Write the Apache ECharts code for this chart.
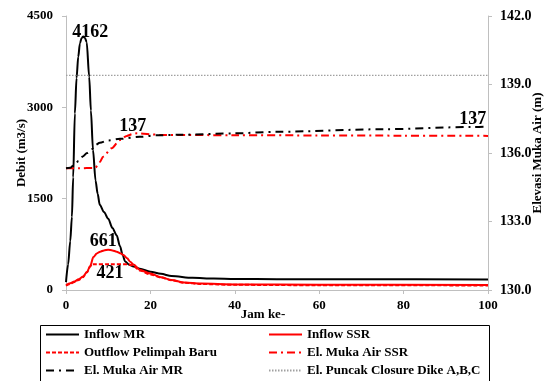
<!DOCTYPE html>
<html>
<head>
<meta charset="utf-8">
<script src="https://cdn.jsdelivr.net/npm/echarts@6/dist/echarts.min.js"></script>
<style>html,body{margin:0;padding:0;background:#fff;}#c{width:550px;height:381px;}</style>
</head>
<body>
<div id="c"></div>
<script>
// ---- data (hours vs values) ----
const hoursMR   = [0,0.5,1,1.4,1.7,2.1,2.5,2.9,3.3,3.7,4.1,4.5,4.9,5.5,5.9,6.4,7.0,7.5,8,9,10,11,12,12.8,13.4,14,15,16,17.5,20,22.5,25,30,35,40,50,70,100];
const inflowMR  = [130,420,800,1200,1850,2900,3480,3830,4050,4140,4162,4140,4070,3500,2950,2300,1800,1580,1400,1280,1170,1020,900,720,580,470,415,385,350,300,265,230,200,188,182,178,176,172];
const hoursSSR  = [0,1,2,3,4,5,5.7,6.5,7.3,8.1,9,10,11,12,13,13.6,14.5,15.2,16,17.5,20,22.5,25,28,32,40,60,100];
const inflowSSR = [80,110,140,175,220,300,390,540,600,630,650,661,650,630,600,575,520,465,420,330,270,210,165,125,105,92,86,84];
const hoursOut  = [0,1,2,3,4,5,5.7,6.1,10.4,14.8,15.5,16,17.5,20,22.5,25,28,32,40,60,100];
const outflow   = [70,100,130,165,210,290,380,421,421,421,410,390,320,255,205,160,120,98,85,78,75];
const hoursElSSR = [0,3,6.9,8,8.8,10.8,12.8,14.4,15.8,16.8,20,22.3,40,60,80,100];
const elSSR      = [135.33,135.33,135.35,135.6,135.84,136.21,136.57,136.75,136.83,136.86,136.82,136.79,136.78,136.77,136.76,136.75];
const hoursElMR  = [0,1,2,3,4,5,6,7,8,10,12.8,17.5,22,27,40,50,75,96.4,100];
const elMR       = [135.33,135.35,135.5,135.65,135.85,136.0,136.15,136.35,136.45,136.55,136.62,136.71,136.78,136.8,136.86,136.93,137.04,137.14,137.16];
const hoursClosure = [0,100];
const elClosure    = [139.4,139.4];
const xTicks = {min:0, max:100, interval:20};
const leftTicks = {min:0, max:4500, interval:1500};
const rightTicks = {min:130, max:142, interval:3};

// points that carry a value label: [hour, position, offset]
const labelsMR = {4.1:['top',[7,5]]};
const labelsSSR = {10:['top',[-5,1]]};
const labelsOut = {10.4:['bottom',[0,0]]};
const labelsElSSR = {15.8:['top',[0,1]]};
const labelsElMR = {96.4:['top',[0,1]]};

const FONT = 'Liberation Serif';
const labStyle = {fontFamily:FONT, fontWeight:'bold', fontSize:18, color:'#000', distance:0};

function build(xs, ys, labels, fmt){
  return xs.map((x,i)=>{
    const item = {value:[x, ys[i]]};
    if (labels[x]) {
      item.label = Object.assign({show:true, position:labels[x][0], offset:labels[x][1],
        formatter: p => fmt(p.value[1])}, labStyle);
    }
    return item;
  });
}
const intFmt = v => String(Math.round(v));

const baseLine = {type:'line', symbol:'circle', symbolSize:0, showSymbol:true, showAllSymbol:true,
  silent:true, animation:false, label:{show:false}, emphasis:{disabled:true}};

const axisGray = '#bfbfbf';
const axisLabel = {fontFamily:FONT, fontWeight:'bold', fontSize:13, color:'#000'};

const option = {
  backgroundColor:'#fff',
  animation:false,
  grid:{left:66, right:62, top:16, bottom:91, containLabel:false, outerBoundsMode:'none'},
  xAxis:{type:'value', min:xTicks.min, max:xTicks.max, interval:xTicks.interval,
    axisLine:{show:true, lineStyle:{color:axisGray}}, axisTick:{show:true, length:4, lineStyle:{color:axisGray}},
    splitLine:{show:false}, axisLabel:Object.assign({margin:9, formatter:v=>String(v)}, axisLabel)},
  yAxis:[
    {type:'value', min:leftTicks.min, max:leftTicks.max, interval:leftTicks.interval,
      name:'Debit (m3/s)', nameLocation:'middle', nameGap:38, nameRotate:90, nameMoveOverlap:false,
      nameTextStyle:{fontFamily:FONT, fontWeight:'bold', fontSize:13, color:'#000'},
      axisLine:{show:true, lineStyle:{color:axisGray}}, axisTick:{show:true, length:4, lineStyle:{color:axisGray}},
      splitLine:{show:false}, axisLabel:Object.assign({margin:13, formatter:v=>String(v)}, axisLabel)},
    {type:'value', min:rightTicks.min, max:rightTicks.max, interval:rightTicks.interval, position:'right',
      name:'Elevasi Muka Air (m)', nameLocation:'middle', nameGap:43, nameRotate:90, nameMoveOverlap:false,
      nameTextStyle:{fontFamily:FONT, fontWeight:'bold', fontSize:13, color:'#000'},
      axisLine:{show:true, lineStyle:{color:axisGray}}, axisTick:{show:true, length:4, lineStyle:{color:axisGray}},
      splitLine:{show:false}, axisLabel:Object.assign({margin:12, formatter:v=>v.toFixed(1)}, axisLabel, {fontSize:14})}
  ],
  legend:[
    {data:['Inflow MR','Outflow Pelimpah Baru','El. Muka Air MR'], orient:'vertical', left:45, top:328,
      itemWidth:33, itemHeight:14, itemGap:5, padding:0, itemStyle:{opacity:0},
      textStyle:{fontFamily:FONT, fontWeight:'bold', fontSize:13, color:'#000'}},
    {data:['Inflow SSR','El. Muka Air SSR','El. Puncak Closure Dike A,B,C'], orient:'vertical', left:268, top:328,
      itemWidth:33, itemHeight:14, itemGap:5, padding:0, itemStyle:{opacity:0},
      textStyle:{fontFamily:FONT, fontWeight:'bold', fontSize:13, color:'#000'}}
  ],
  graphic:[
    {type:'rect', shape:{x:40.5, y:325.5, width:449, height:70}, style:{fill:'none', stroke:'#000', lineWidth:1}, silent:true},
    {type:'text', x:263, y:315, style:{text:'Jam ke-', fontFamily:FONT, fontWeight:'bold', fontSize:13, fill:'#000', align:'center', verticalAlign:'middle'}, silent:true}
  ],
  series:[
    Object.assign({}, baseLine, {name:'Inflow MR', yAxisIndex:0, smooth:0.3, smoothMonotone:'x',
      lineStyle:{color:'#000', width:2}, itemStyle:{color:'#000'},
      data:build(hoursMR, inflowMR, labelsMR, intFmt)}),
    Object.assign({}, baseLine, {name:'Inflow SSR', yAxisIndex:0, smooth:0.3, smoothMonotone:'x',
      lineStyle:{color:'#ff0000', width:2}, itemStyle:{color:'#ff0000'},
      data:build(hoursSSR, inflowSSR, labelsSSR, intFmt)}),
    Object.assign({}, baseLine, {name:'Outflow Pelimpah Baru', yAxisIndex:0, smooth:0.3, smoothMonotone:'x',
      lineStyle:{color:'#ff0000', width:2, type:[4,2]}, itemStyle:{color:'#ff0000'},
      data:build(hoursOut, outflow, labelsOut, intFmt)}),
    Object.assign({}, baseLine, {name:'El. Muka Air SSR', yAxisIndex:1, smooth:0.3, smoothMonotone:'x',
      lineStyle:{color:'#ff0000', width:2, type:[8,4,2,4]}, itemStyle:{color:'#ff0000'},
      data:build(hoursElSSR, elSSR, labelsElSSR, intFmt)}),
    Object.assign({}, baseLine, {name:'El. Muka Air MR', yAxisIndex:1, smooth:0.3, smoothMonotone:'x',
      lineStyle:{color:'#000', width:2, type:[8,5,2,5]}, itemStyle:{color:'#000'},
      data:build(hoursElMR, elMR, labelsElMR, intFmt)}),
    Object.assign({}, baseLine, {name:'El. Puncak Closure Dike A,B,C', yAxisIndex:1,
      lineStyle:{color:'#a0a0a0', width:1.2, type:[1.5,1.5]}, itemStyle:{color:'#a0a0a0'},
      data:build(hoursClosure, elClosure, {}, intFmt)})
  ]
};
const chart = echarts.init(document.getElementById('c'), null, {renderer:'canvas'});
chart.setOption(option);
</script>
</body>
</html>
